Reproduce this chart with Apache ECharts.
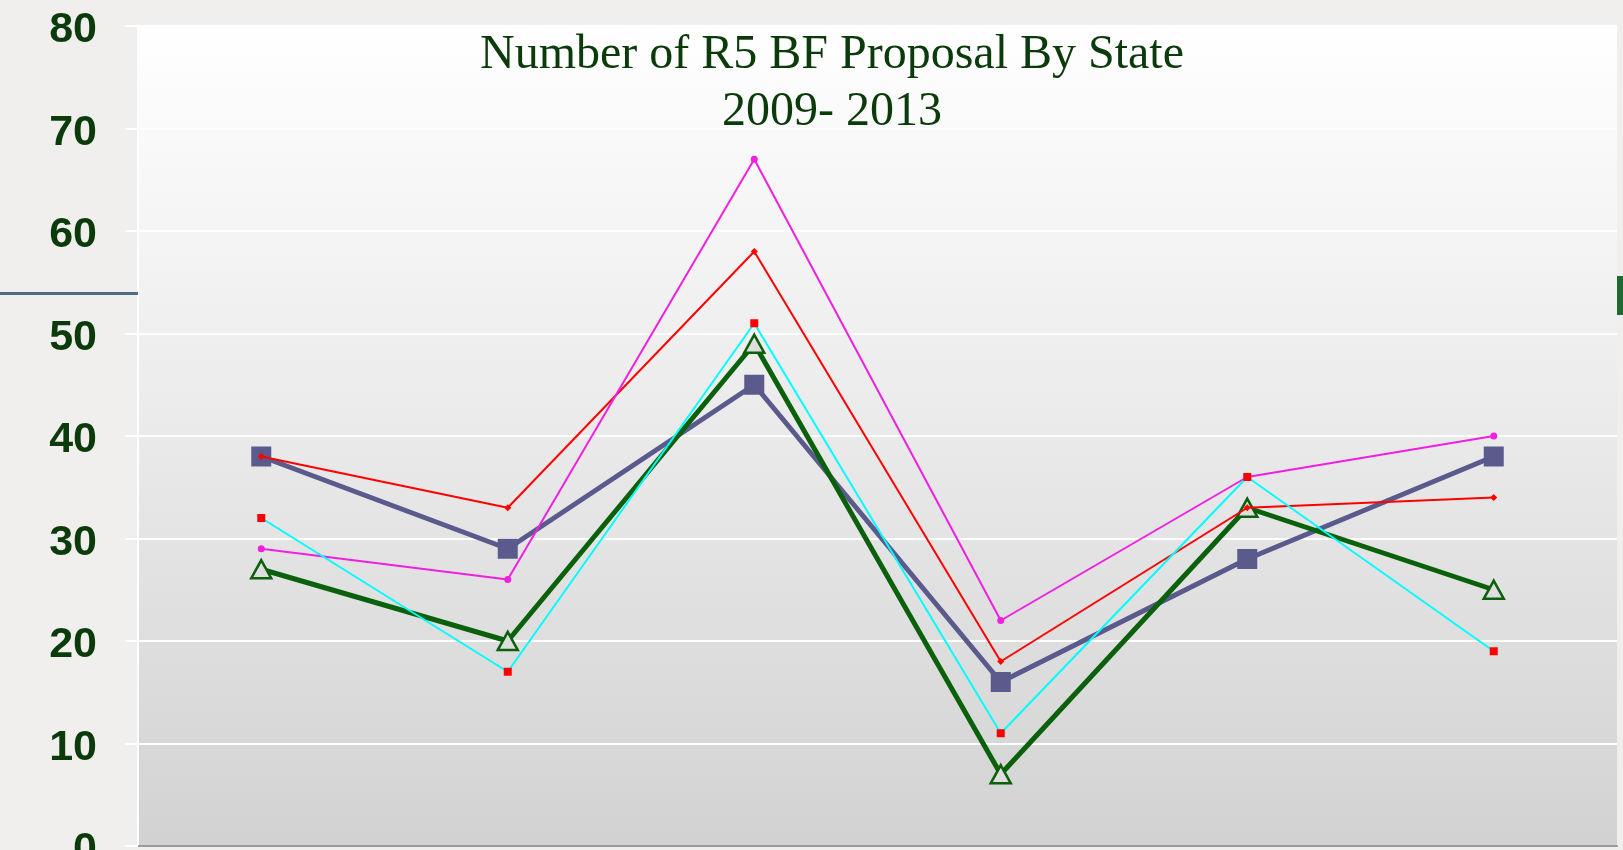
<!DOCTYPE html>
<html>
<head>
<meta charset="utf-8">
<script src="https://cdn.jsdelivr.net/npm/echarts@6/dist/echarts.min.js"></script>
<style>
html,body{margin:0;padding:0;background:#f0efed;overflow:hidden;}
#chart{width:1623px;height:850px;}
</style>
</head>
<body>
<div id="chart"></div>
<script>
// Data
var categories = ['Illinois', 'Indiana', 'Michigan', 'Minnesota', 'Ohio', 'Wisconsin'];
var yTicks = [0, 10, 20, 30, 40, 50, 60, 70, 80];
var seriesSlate   = [38, 29, 45, 16, 28, 38];
var seriesGreen   = [27, 20, 49, 7, 33, 25];
var seriesRed     = [38, 33, 58, 18, 33, 34];
var seriesMagenta = [29, 26, 67, 22, 36, 40];
var seriesCyan    = [32, 17, 51, 11, 36, 19];
var titleLines = ['Number of R5 BF Proposal By State', '2009- 2013'];

var chart = echarts.init(document.getElementById('chart'));
var option = {
  backgroundColor: '#f0efed',
  animation: false,
  title: {
    text: titleLines.join('\n'),
    left: 827, top: 22, textAlign: 'center',
    textStyle: {
      fontFamily: 'Liberation Serif', fontWeight: 'normal',
      fontSize: 48, lineHeight: 57, color: '#0b3b0b'
    }
  },
  grid: {
    left: 138, right: 6, top: 26, bottom: 4,
    outerBoundsMode: 'none', containLabel: false,
    show: true, borderWidth: 0,
    backgroundColor: {
      type: 'linear', x: 0, y: 0, x2: 0, y2: 1,
      colorStops: [
        {offset: 0, color: '#ffffff'},
        {offset: 0.45, color: '#ececec'},
        {offset: 1, color: '#d2d2d2'}
      ]
    }
  },
  xAxis: {
    type: 'category', data: categories, boundaryGap: true,
    axisLine: {show: true, lineStyle: {color: '#9a9a9a', width: 2}},
    axisTick: {show: false}, axisLabel: {show: false},
    splitLine: {show: false}
  },
  yAxis: {
    type: 'value', min: yTicks[0], max: yTicks[yTicks.length - 1], interval: 10,
    axisLine: {show: true, lineStyle: {color: '#ffffff', width: 2}},
    axisTick: {show: true, length: 13, lineStyle: {color: '#ffffff', width: 2}},
    axisLabel: {
      margin: 41,
      formatter: function (v) { return '{n|' + v + '}'; },
      rich: {
        n: {
          fontSize: 43, fontWeight: 'bold', fontFamily: 'Liberation Sans',
          color: '#0b3b0b', lineHeight: 43, padding: [9, 0, 0, 0]
        }
      }
    },
    splitLine: {show: true, lineStyle: {color: '#ffffff', width: 2}}
  },
  series: [
    {
      name: 'Series A', type: 'line', data: seriesSlate, z: 2,
      symbol: 'rect', symbolSize: 20,
      lineStyle: {color: '#5a5a8c', width: 5},
      itemStyle: {color: '#5a5a8c'}
    },
    {
      name: 'Series B', type: 'line', data: seriesGreen, z: 3,
      symbol: 'triangle', symbolSize: [20, 18],
      lineStyle: {color: '#0b610b', width: 5},
      itemStyle: {color: '#dedede', borderColor: '#0b610b', borderWidth: 2.5}
    },
    {
      name: 'Series C', type: 'line', data: seriesRed, z: 4,
      symbol: 'diamond', symbolSize: 7,
      lineStyle: {color: '#ff0000', width: 2},
      itemStyle: {color: '#ff0000'}
    },
    {
      name: 'Series D', type: 'line', data: seriesMagenta, z: 5,
      symbol: 'circle', symbolSize: 7,
      lineStyle: {color: '#f020e0', width: 2},
      itemStyle: {color: '#f020e0'}
    },
    {
      name: 'Series E', type: 'line', data: seriesCyan, z: 6,
      symbol: 'rect', symbolSize: 8,
      lineStyle: {color: '#00ffff', width: 2},
      itemStyle: {color: '#ff0000'}
    }
  ],
  graphic: [
    {type: 'rect', left: 0, top: 292, shape: {width: 138, height: 3}, style: {fill: '#4f6f7f'}, z: 10},
    {type: 'rect', left: 1617, top: 276, shape: {width: 6, height: 39}, style: {fill: '#1e6b2e'}, z: 10}
  ]
};
chart.setOption(option);
</script>
</body>
</html>
